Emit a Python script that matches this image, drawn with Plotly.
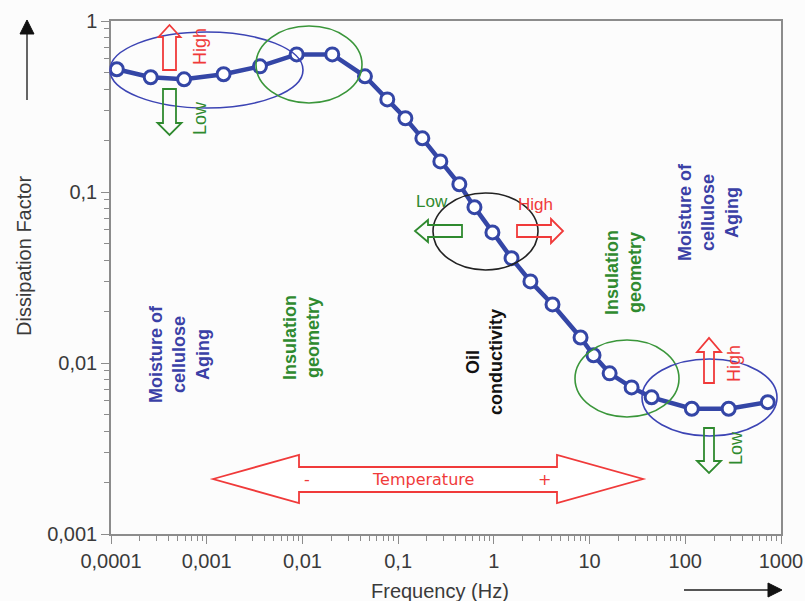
import plotly.graph_objects as go

# Frequency-domain dissipation factor of an oil/paper insulation system
frequency_hz = [1.15e-4, 2.6e-4, 5.8e-4, 1.5e-3, 3.6e-3, 8.7e-3, 2.05e-2, 4.5e-2,
                7.7e-2, 0.119, 0.179, 0.276, 0.436, 0.627, 0.966, 1.53, 2.41, 4.1,
                8.05, 11.0, 16.2, 27.5, 44.5, 117, 284, 728]
dissipation_factor = [0.522, 0.469, 0.456, 0.488, 0.543, 0.638, 0.638, 0.475,
                      0.348, 0.270, 0.206, 0.151, 0.111, 0.0815, 0.058, 0.041, 0.030, 0.022,
                      0.0141, 0.0111, 0.0087, 0.0072, 0.0063, 0.0054, 0.0054, 0.0059]

x_tick_vals = [1e-4, 1e-3, 1e-2, 1e-1, 1, 10, 100, 1000]
x_tick_text = ["0,0001", "0,001", "0,01", "0,1", "1", "10", "100", "1000"]
y_tick_vals = [0.001, 0.01, 0.1, 1]
y_tick_text = ["0,001", "0,01", "0,1", "1"]

x_minor = [m * 10.0 ** e for e in range(-4, 3) for m in range(2, 10)]
y_minor = [m * 10.0 ** e for e in range(-3, 0) for m in range(2, 10)]

BLUE = "#3446a6"
RED = "#f03a3a"
GREEN = "#3a963a"
DARK_GREEN = "#2f8a2f"
TEXT_BLUE = "#3a40a6"
AXIS_TEXT = "#3a3a3a"

W, H = 805, 601
L, R, T, B = 111, 24, 21, 67
X0, X1 = L, W - R
Y0, Y1 = T, H - B


def fx(px):
    return (px - X0) / (X1 - X0)


def fy(py):
    return (Y1 - py) / (Y1 - Y0)


def path_from(points):
    return "M " + " L ".join(f"{fx(x):.5f},{fy(y):.5f}" for x, y in points) + " Z"


def block_arrow(tail, tip, shaft, head, head_len):
    (tx, ty), (px, py) = tail, tip
    length = ((px - tx) ** 2 + (py - ty) ** 2) ** 0.5
    dx, dy = (px - tx) / length, (py - ty) / length
    nx, ny = -dy, dx
    bx, by = px - dx * head_len, py - dy * head_len
    return [
        (tx + nx * shaft, ty + ny * shaft),
        (bx + nx * shaft, by + ny * shaft),
        (bx + nx * head, by + ny * head),
        (px, py),
        (bx - nx * head, by - ny * head),
        (bx - nx * shaft, by - ny * shaft),
        (tx - nx * shaft, ty - ny * shaft),
    ]


def ellipse(x0, x1, y0, y1, color):
    return dict(type="circle", xref="paper", yref="paper",
                x0=fx(x0), x1=fx(x1), y0=fy(y1), y1=fy(y0),
                line=dict(color=color, width=1.6), layer="above")


def outline(points, color, fill="rgba(255,255,255,0)"):
    return dict(type="path", xref="paper", yref="paper", path=path_from(points),
                line=dict(color=color, width=1.8), fillcolor=fill, layer="above")


fig = go.Figure()
fig.add_trace(go.Scatter(
    x=frequency_hz, y=dissipation_factor, mode="lines+markers",
    line=dict(color=BLUE, width=4.5),
    marker=dict(size=13, color="white", line=dict(color=BLUE, width=3)),
    showlegend=False, hoverinfo="x+y",
))

shapes = [
    ellipse(110, 303, 32, 108, "#3c44b4"),
    ellipse(256, 362, 26, 103, GREEN),
    ellipse(433, 538, 193, 270, "#222222"),
    ellipse(575, 679, 340, 417, GREEN),
    ellipse(642, 777, 359, 436, "#3c44b4"),
    # moisture / aging arrows
    outline(block_arrow((169.5, 70), (169.5, 25), 6.5, 11, 12), RED),
    outline(block_arrow((169.5, 89), (169.5, 135), 6.5, 12, 12), DARK_GREEN),
    outline(block_arrow((709, 383), (709, 338), 5, 12, 14), RED),
    outline(block_arrow((709, 428), (709, 473), 5, 12, 12), DARK_GREEN),
    # oil conductivity arrows
    outline(block_arrow((462, 231), (415, 231), 6, 11, 13), DARK_GREEN),
    outline(block_arrow((517, 231), (563, 231), 6, 12, 12), RED),
    # temperature double arrow
    outline([(213, 479), (299, 455), (299, 467), (557, 467), (557, 455), (643, 479),
             (557, 503), (557, 492), (299, 492), (299, 503)], RED, "white"),
    # direction arrows beside the axes
    dict(type="line", xref="paper", yref="paper", x0=fx(27), x1=fx(27), y0=fy(100), y1=fy(32),
         line=dict(color="#333333", width=1.5)),
    dict(type="path", xref="paper", yref="paper", path=path_from([(20, 34), (34, 34), (27, 20)]),
         fillcolor="#111111", line=dict(color="#111111", width=1)),
    dict(type="line", xref="paper", yref="paper", x0=fx(684), x1=fx(770), y0=fy(590), y1=fy(590),
         line=dict(color="#555555", width=2)),
    dict(type="path", xref="paper", yref="paper", path=path_from([(768, 583), (768, 597), (782, 590)]),
         fillcolor="#111111", line=dict(color="#111111", width=1)),
]


def label(px, py, text, color, size=18, bold=False, angle=-90, family="Arial"):
    return dict(xref="paper", yref="paper", x=fx(px), y=fy(py), text=f"<b>{text}</b>" if bold else text,
                showarrow=False, textangle=angle, xanchor="center", yanchor="middle", align="center",
                font=dict(family=family, size=size, color=color))


annotations = [
    label(179, 354, "Moisture of<br>cellulose<br>Aging", TEXT_BLUE, bold=True),
    label(301, 338, "Insulation<br>geometry", DARK_GREEN, bold=True),
    label(484, 362, "Oil<br>conductivity", "#111111", bold=True),
    label(623, 273, "Insulation<br>geometry", DARK_GREEN, bold=True),
    label(708, 212, "Moisture of<br>cellulose<br>Aging", TEXT_BLUE, bold=True),
    label(200, 47, "High", RED),
    label(200, 118, "Low", DARK_GREEN),
    label(734, 364, "High", RED),
    label(736, 448, "Low", DARK_GREEN),
    label(432, 201, "Low", DARK_GREEN, size=17, angle=0),
    label(535, 204, "High", RED, size=17, angle=0),
    label(423, 479, "Temperature", RED, size=16, angle=0, family="DejaVu Sans"),
    label(307, 479, "-", RED, size=16, angle=0, family="DejaVu Sans"),
    label(544, 479, "+", RED, size=16, angle=0, family="DejaVu Sans"),
    label(24, 256, "Dissipation Factor", AXIS_TEXT, size=20),
    label(440, 591, "Frequency (Hz)", AXIS_TEXT, size=20, angle=0),
]

axis_common = dict(
    type="log", showgrid=False, zeroline=False, showline=True, linecolor="#8c8c8c",
    linewidth=1.5, mirror=True, ticks="outside", ticklen=8, tickcolor="#8c8c8c",
    tickfont=dict(family="Arial", size=20, color=AXIS_TEXT), automargin=False,
)

fig.update_layout(
    width=W, height=H,
    margin=dict(l=L, r=R, t=T, b=B, autoexpand=False),
    paper_bgcolor="#fcfcfc", plot_bgcolor="#fcfcfc",
    shapes=shapes, annotations=annotations,
    xaxis=dict(axis_common, range=[-4, 3], tickvals=x_tick_vals, ticktext=x_tick_text,
               minor=dict(tickvals=x_minor, ticks="outside", ticklen=5, tickcolor="#8c8c8c", showgrid=False)),
    yaxis=dict(axis_common, range=[-3, 0], tickvals=y_tick_vals, ticktext=y_tick_text,
               minor=dict(tickvals=y_minor, ticks="outside", ticklen=5, tickcolor="#8c8c8c", showgrid=False)),
)

fig.write_html("out.html")
